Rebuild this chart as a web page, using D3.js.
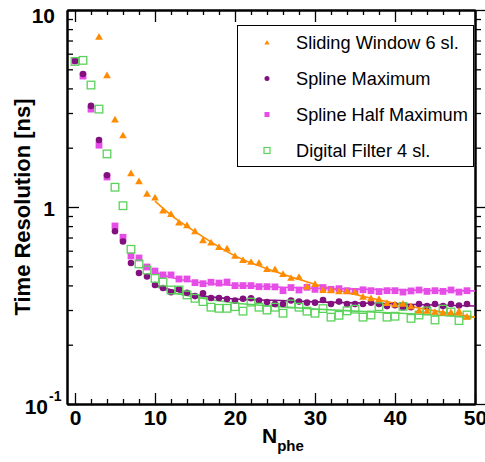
<!DOCTYPE html>
<html>
<head>
<meta charset="utf-8">
<script src="https://cdn.jsdelivr.net/npm/d3@7"></script>
<style>
  html, body { margin: 0; padding: 0; background: #fff; }
  svg text { font-family: "Liberation Sans", Arial, Helvetica, sans-serif; }
</style>
</head>
<body>
<svg id="chart" width="485" height="462"></svg>
<script>
// Number of photoelectrons per measurement point
const nphe = [0,1,2,3,4,5,6,7,8,9,10,11,12,13,14,15,16,17,18,19,20,21,22,23,24,
              25,26,27,28,29,30,31,32,33,34,35,36,37,38,39,40,41,42,43,44,45,46,47,48,49];

// Time resolution [ns] for each extractor (null = no point)
const slidingWindow = [null,null,null,7.25,4.62,2.76,2.29,1.47,1.34,1.157,1.107,0.951,0.914,0.827,0.801,
  0.747,0.672,0.654,0.621,0.610,0.560,0.534,0.522,0.517,0.480,0.479,0.453,0.433,0.438,0.391,
  0.403,0.376,0.375,0.370,0.370,0.367,0.347,0.341,0.338,0.323,0.318,0.320,0.311,0.296,0.295,
  0.291,0.289,0.290,0.294,0.275];

const splineMaximum = [5.51,4.73,3.26,2.19,1.45,0.753,0.668,0.520,0.462,0.444,0.402,0.388,0.369,0.382,0.367,
  0.353,0.365,0.345,0.345,0.341,0.335,0.342,0.344,0.335,0.329,0.322,0.322,0.335,0.331,0.327,
  0.327,0.337,0.322,0.331,0.322,0.322,0.322,0.327,0.322,0.314,0.317,0.310,0.310,0.322,0.314,
  0.322,0.314,0.322,0.316,0.322];

const splineHalfMaximum = [5.51,4.62,3.14,2.06,1.42,0.801,0.702,0.564,0.551,0.496,0.473,0.452,0.452,0.431,0.431,
  0.413,0.408,0.415,0.411,0.416,0.399,0.399,0.399,0.394,0.394,0.393,0.376,0.390,0.379,0.391,
  0.382,0.390,0.382,0.385,0.376,0.373,0.380,0.376,0.372,0.376,0.376,0.370,0.375,0.379,0.373,
  0.376,0.373,0.379,0.370,0.376];

const digitalFilter = [5.48,5.55,4.16,3.14,1.86,1.26,1.015,0.610,0.514,0.479,0.434,0.416,0.379,0.379,0.358,
  0.344,0.331,0.310,0.306,0.306,0.312,0.296,0.329,0.310,0.300,0.310,0.289,0.322,0.310,0.296,
  0.289,0.305,0.276,0.282,0.297,0.303,0.276,0.283,0.312,0.276,0.279,0.313,0.272,0.283,0.297,
  0.267,0.303,0.293,0.265,0.283];

// Fitted curves, sampled along N_phe
const fitNphe = [10,12,15,20,25,30,35,40,45,50];
const fitSlidingWindow     = [1.07,0.91,0.75,0.565,0.47,0.405,0.36,0.325,0.297,0.276];
const fitSplineMaximum     = [0.402,0.380,0.358,0.341,0.336,0.3300,0.3260,0.3225,0.318,0.3145];
const fitSplineHalfMaximum = [0.468,0.440,0.416,0.400,0.393,0.387,0.383,0.380,0.377,0.375];
const fitDigitalFilter     = [0.397,0.370,0.349,0.3256,0.313,0.3035,0.296,0.2897,0.283,0.2764];

// Axis tick values and labels
const xMajorTicks = [0,10,20,30,40,50];
const xMinorTicks = [2,4,6,8,12,14,16,18,22,24,26,28,32,34,36,38,42,44,46,48];
const yMajorTicks = [0.1,1,10];
const yMinorTicks = [0.2,0.3,0.4,0.5,0.6,0.7,0.8,0.9,2,3,4,5,6,7,8,9];
const legendLabels = ["Sliding Window 6 sl.","Spline Maximum","Spline Half Maximum","Digital Filter 4 sl."];

const colors = {
  sw: "#ff8c00",
  smax: "#82107f",
  shalf: "#e64ce6",
  df: "#5ad35a"
};

(function draw() {
  const svg = d3.select("#chart");
  const pLeft = 67, pRight = 475, pTop = 10, pBottom = 404;

  const x = d3.scaleLinear().domain([-1, 50]).range([pLeft, pRight]);
  const y = d3.scaleLog().domain([0.1, 10]).range([pBottom, pTop]);

  // ---- frame and axes ----
  const axisStyle = g => {
    g.selectAll(".domain").attr("stroke", "#000").attr("stroke-width", 2);
    g.selectAll(".tick line").attr("stroke", "#000").attr("stroke-width", 1.3);
    g.selectAll("text").attr("fill", "#000").attr("font-weight", "bold").attr("font-size", 21)
      .style("font-family", "'Liberation Sans', Arial, sans-serif");
  };

  // bottom
  svg.append("g").attr("transform", `translate(0,${pBottom})`)
    .call(d3.axisBottom(x).tickValues(xMinorTicks).tickSizeInner(-5).tickSizeOuter(0).tickFormat(""))
    .call(axisStyle);
  svg.append("g").attr("transform", `translate(0,${pBottom})`)
    .call(d3.axisBottom(x).tickValues(xMajorTicks).tickSizeInner(-11).tickSizeOuter(0).tickPadding(6).tickFormat(d3.format("d")))
    .call(axisStyle);

  // top
  svg.append("g").attr("transform", `translate(0,${pTop})`)
    .call(d3.axisTop(x).tickValues(xMinorTicks).tickSizeInner(-5).tickSizeOuter(0).tickFormat(""))
    .call(axisStyle);
  svg.append("g").attr("transform", `translate(0,${pTop})`)
    .call(d3.axisTop(x).tickValues(xMajorTicks).tickSizeInner(-12).tickSizeOuter(0).tickFormat(""))
    .call(axisStyle);

  // left
  svg.append("g").attr("transform", `translate(${pLeft},0)`)
    .call(d3.axisLeft(y).tickValues(yMinorTicks).tickSizeInner(-6).tickSizeOuter(0).tickFormat(""))
    .call(axisStyle);
  svg.append("g").attr("transform", `translate(${pLeft},0)`)
    .call(d3.axisLeft(y).tickValues(yMajorTicks).tickSizeInner(-12).tickSizeOuter(0).tickPadding(12)
      .tickFormat(d => d === 0.1 ? "" : d3.format("d")(d)))
    .call(axisStyle)
    .call(g => g.selectAll("text").attr("dy", null)
      .attr("y", d => d === 10 ? 12 : 8));

  // 10^-1 label
  svg.append("text")
    .attr("x", 48).attr("y", y(0.1) + 10)
    .attr("text-anchor", "end")
    .attr("font-weight", "bold").attr("font-size", 21).attr("fill", "#000")
    .text("10");
  svg.append("text")
    .attr("x", 49).attr("y", y(0.1) - 3)
    .attr("font-weight", "bold").attr("font-size", 14).attr("fill", "#000")
    .text("-1");

  // right
  svg.append("g").attr("transform", `translate(${pRight},0)`)
    .call(d3.axisRight(y).tickValues(yMinorTicks).tickSizeInner(6).tickSizeOuter(0).tickFormat(""))
    .call(axisStyle);
  svg.append("g").attr("transform", `translate(${pRight},0)`)
    .call(d3.axisRight(y).tickValues(yMajorTicks).tickSizeInner(10).tickSizeOuter(0).tickFormat(""))
    .call(axisStyle);

  // axis titles
  svg.append("text")
    .attr("transform", `translate(30,${(pTop + pBottom) / 2}) rotate(-90)`)
    .attr("text-anchor", "middle")
    .attr("font-weight", "bold").attr("font-size", 22).attr("fill", "#000")
    .text("Time Resolution [ns]");

  const xTitle = svg.append("text")
    .attr("x", 262).attr("y", 443)
    .attr("font-weight", "bold").attr("fill", "#000");
  xTitle.append("tspan").attr("font-size", 21).text("N");
  xTitle.append("tspan").attr("font-size", 15).attr("dy", 8).text("phe");

  // ---- fit curves ----
  const fitLine = d3.line()
    .x((d, i) => x(fitNphe[i]))
    .y(d => y(d))
    .curve(d3.curveMonotoneX);

  const fits = [
    [fitSplineHalfMaximum, colors.shalf],
    [fitSplineMaximum, colors.smax],
    [fitDigitalFilter, colors.df],
    [fitSlidingWindow, colors.sw]
  ];
  fits.forEach(([vals, c]) => {
    svg.append("path")
      .attr("d", fitLine(vals))
      .attr("fill", "none")
      .attr("stroke", c)
      .attr("stroke-width", 1.6);
  });

  // ---- markers ----
  const points = vals => nphe.map((n, i) => ({ n, v: vals[i] })).filter(d => d.v != null);

  const gPts = svg.append("g");

  // Spline Half Maximum: filled squares
  gPts.selectAll("rect.shalf").data(points(splineHalfMaximum)).join("rect")
    .attr("class", "shalf")
    .attr("x", d => x(d.n) - 3.4).attr("y", d => y(d.v) - 3.4)
    .attr("width", 6.8).attr("height", 6.8)
    .attr("fill", colors.shalf);

  // Spline Maximum: filled circles
  gPts.selectAll("circle.smax").data(points(splineMaximum)).join("circle")
    .attr("class", "smax")
    .attr("cx", d => x(d.n)).attr("cy", d => y(d.v)).attr("r", 3.3)
    .attr("fill", colors.smax);

  // Digital Filter: open squares
  gPts.selectAll("rect.df").data(points(digitalFilter)).join("rect")
    .attr("class", "df")
    .attr("x", d => x(d.n) - 3.8).attr("y", d => y(d.v) - 3.8)
    .attr("width", 7.6).attr("height", 7.6)
    .attr("fill", "none").attr("stroke", colors.df).attr("stroke-width", 1.3);

  // Sliding Window: filled triangles
  const tri = d3.symbol().type(d3.symbolTriangle).size(26);
  gPts.selectAll("path.sw").data(points(slidingWindow)).join("path")
    .attr("class", "sw")
    .attr("d", tri)
    .attr("transform", d => `translate(${x(d.n)},${y(d.v)})`)
    .attr("fill", colors.sw);

  // ---- legend ----
  const lg = svg.append("g");
  lg.append("rect")
    .attr("x", 237.5).attr("y", 25.5).attr("width", 236).attr("height", 141)
    .attr("fill", "#fff").attr("stroke", "#000").attr("stroke-width", 1);

  const rowBase = [49, 85, 121, 157];
  const mx = 267;
  legendLabels.forEach((label, i) => {
    lg.append("text")
      .attr("x", 296).attr("y", rowBase[i])
      .attr("font-size", 18.2).attr("fill", "#000")
      .text(label);
  });
  lg.append("path").attr("d", d3.symbol().type(d3.symbolTriangle).size(12)())
    .attr("transform", `translate(${mx},${rowBase[0] - 6})`).attr("fill", colors.sw);
  lg.append("circle").attr("cx", mx).attr("cy", rowBase[1] - 6.5).attr("r", 2.5).attr("fill", colors.smax);
  lg.append("rect").attr("x", mx - 2.5).attr("y", rowBase[2] - 9).attr("width", 5).attr("height", 5).attr("fill", colors.shalf);
  lg.append("rect").attr("x", mx - 3).attr("y", rowBase[3] - 9.5).attr("width", 6).attr("height", 6)
    .attr("fill", "none").attr("stroke", colors.df).attr("stroke-width", 1.2);
})();
</script>
</body>
</html>
